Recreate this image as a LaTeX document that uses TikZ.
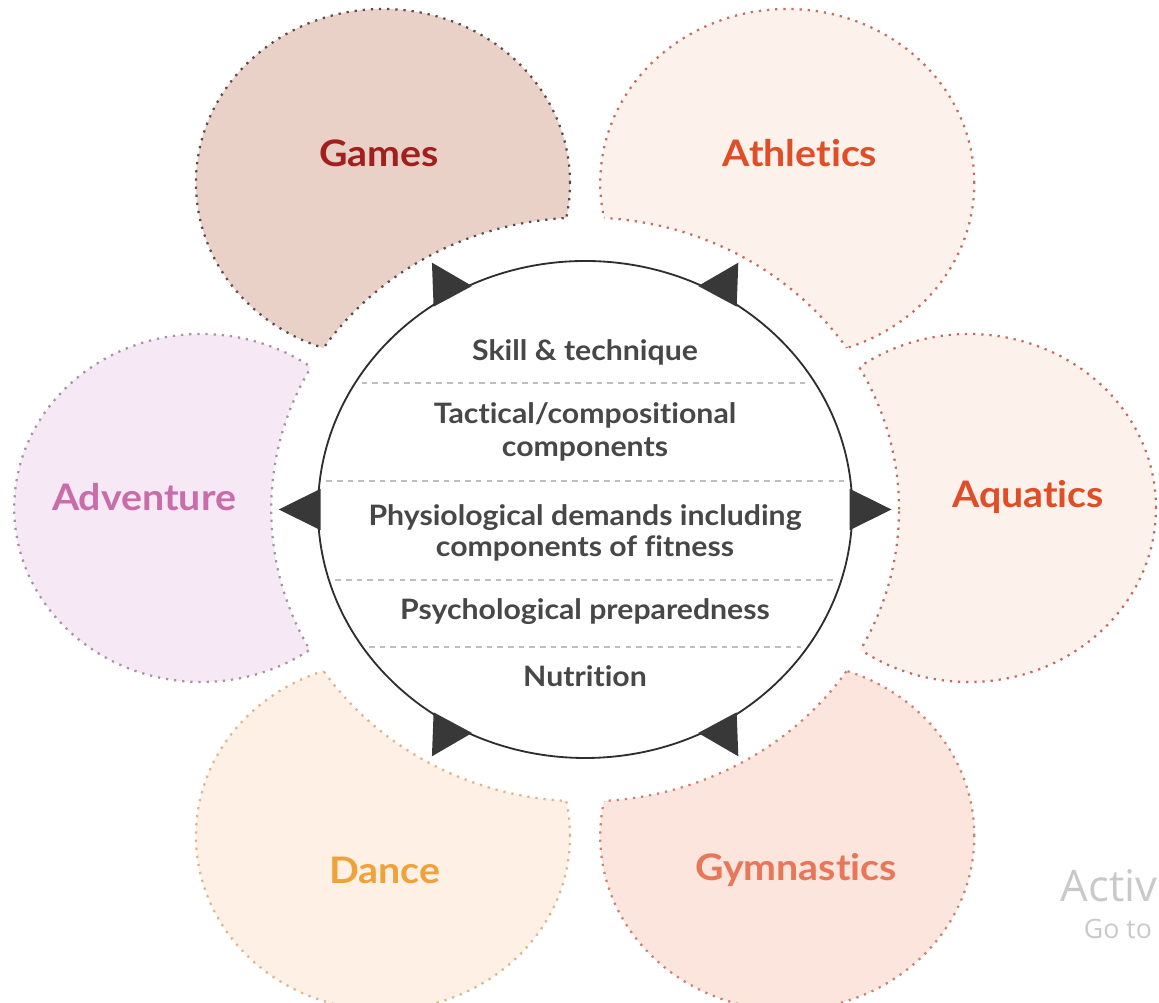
\documentclass[tikz,border=0pt]{standalone}
\usepackage{fontspec}
\setmainfont{Lato}[Ligatures=NoCommon]
\setsansfont{Open Sans}
\usetikzlibrary{calc}
\definecolor{fwink}{HTML}{474747}
\definecolor{fwline}{HTML}{2E2E2E}
\definecolor{fwarrow}{HTML}{383838}
\definecolor{fwdash}{HTML}{BEBEBE}
\definecolor{fwmark}{HTML}{C9C9C9}
\definecolor{fwgamesfill}{HTML}{E9D1C8}
\definecolor{fwgamesdot}{HTML}{5C4A48}
\definecolor{fwgamestext}{HTML}{A11F1D}
\definecolor{fwathfill}{HTML}{FDF1EB}
\definecolor{fwathdot}{HTML}{CC6A5C}
\definecolor{fwathtext}{HTML}{E04E28}
\definecolor{fwaquafill}{HTML}{FDF1EC}
\definecolor{fwaquadot}{HTML}{C46A62}
\definecolor{fwaquatext}{HTML}{E04E28}
\definecolor{fwgymfill}{HTML}{FCE5DC}
\definecolor{fwgymdot}{HTML}{CF8070}
\definecolor{fwgymtext}{HTML}{E8775A}
\definecolor{fwdancefill}{HTML}{FEF0E4}
\definecolor{fwdancedot}{HTML}{DDB48E}
\definecolor{fwdancetext}{HTML}{EFA23C}
\definecolor{fwadvfill}{HTML}{F6E8F4}
\definecolor{fwadvdot}{HTML}{A593A3}
\definecolor{fwadvtext}{HTML}{C96DAA}
\tikzset{
  fwpetal/.style={line width=1.6pt, dash pattern=on 1.6pt off 4.2pt},
  fwhub/.style={draw=fwline, fill=white, line width=1.3pt},
  fwdivider/.style={draw=fwdash, line width=0.9pt,
    dash pattern=on 4pt off 3.6pt},
  fwtip/.style={fill=fwarrow},
  fwsport/.style={font=\fontsize{26}{30}\selectfont\bfseries, xscale=1.075},
  fwrow/.style={font=\fontsize{20}{22.5}\selectfont\bfseries, text=fwink,
    align=center, xscale=1.075},
  fwmarktext/.style={anchor=west, text=fwmark},
}
\begin{document}
\begin{tikzpicture}[x=0.025cm, y=0.025cm]
\useasboundingbox (0,0) rectangle (1159,1003);

\begin{scope}[xscale=1.075]
\coordinate (hub) at (544.2, 493.5);

% Petal discs and their outer rims.
\foreach \name/\u/\v/\fillc/\dotc in {%
    games/356.2/820/fwgamesfill/fwgamesdot,
    athletics/732.2/820/fwathfill/fwathdot,
    aquatics/901.2/495/fwaquafill/fwaquadot,
    gymnastics/732.2/167/fwgymfill/fwgymdot,
    dance/356.2/167/fwdancefill/fwdancedot,
    adventure/187.2/495/fwadvfill/fwadvdot} {
  \coordinate (\name) at (\u, \v);
  \fill[\fillc] (\name) circle (174);
  \draw[fwpetal, draw=\dotc] (\name) circle (174);
}

% White gap round the hub.
\fill[white] (hub) circle (292);

% Inner rims of the petals.
\foreach \name/\dotc in {%
    games/fwgamesdot, athletics/fwathdot, aquatics/fwaquadot,
    gymnastics/fwgymdot, dance/fwdancedot, adventure/fwadvdot} {
  \begin{scope}
    \clip (\name) circle (174);
    \draw[fwpetal, draw=\dotc] (hub) circle (292);
  \end{scope}
}

% Hub and its arrow tips.
\draw[fwhub] (hub) circle (248.5);
\foreach \a in {0,60,...,300}
  \fill[fwtip] ($(hub)+({\a-4.8}:247)$) -- ($(hub)+(\a:285)$)
    -- ($(hub)+({\a+4.8}:247)$) -- cycle;

% Dividers between the rows.
\foreach \dy in {126.5, 28.5, -70.5, -137.5} {
  \pgfmathsetmacro{\hw}{248.5*sqrt(1-(\dy/248.5)^2)-6}
  \draw[fwdivider] ($(hub)+(-\hw,\dy)$) -- ($(hub)+(\hw,\dy)$);
}

% Rows.
\node[fwrow] (skill) at (544.2, 651) {Skill \& technique};
\node[fwrow] (tactic) at (544.2, 571)
  {Tactical/compositional\\[1.5pt] components};
\node[fwrow] (physio) at (544.2, 470)
  {Physiological demands including\\ components of fitness};
\node[fwrow] (psych) at (544.2, 391) {Psychological preparedness};
\node[fwrow] (nutri) at (544.2, 327) {Nutrition};

% Sport labels.
\node[fwsport, text=fwgamestext] (gameslabel) at (352.6, 850) {Games};
\node[fwsport, text=fwathtext] (athlabel) at (744.2, 850) {Athletics};
\node[fwsport, text=fwaquatext] (aqualabel) at (956.3, 506) {Aquatics};
\node[fwsport, text=fwgymtext] (gymlabel) at (740.5, 133) {Gymnastics};
\node[fwsport, text=fwdancetext] (dancelabel) at (358.1, 133) {Dance};
\node[fwsport, text=fwadvtext] (advlabel) at (134, 506) {Adventure};
\end{scope}

% Screen watermark.
\node[fwmarktext, font=\sffamily\fontsize{31}{32}\selectfont]
  (activ) at (1056, 117) {Activ};
\node[fwmarktext, font=\sffamily\fontsize{19}{20}\selectfont]
  (goto) at (1079, 74) {Go to};

\end{tikzpicture}
\end{document}
